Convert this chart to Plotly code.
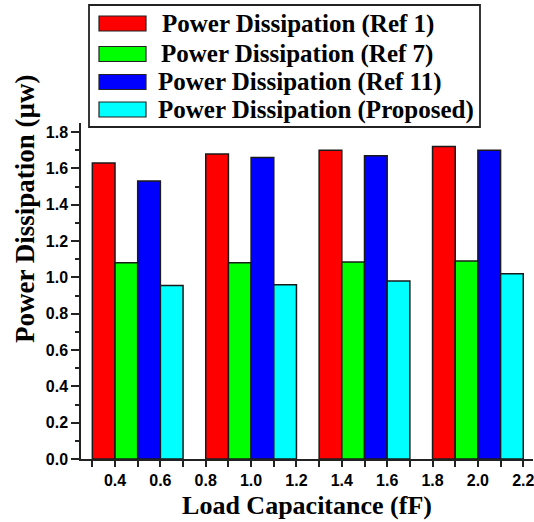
import plotly.graph_objects as go

# Load capacitance (fF) at which each group of bars is plotted
load_cap = [0.5, 1.0, 1.5, 2.0]

# Power dissipation (uW) for each design
ref1 = [1.63, 1.68, 1.70, 1.72]
ref7 = [1.08, 1.08, 1.085, 1.09]
ref11 = [1.53, 1.66, 1.67, 1.70]
proposed = [0.955, 0.96, 0.98, 1.02]

series_names = [
    "Power Dissipation (Ref 1)",
    "Power Dissipation (Ref 7)",
    "Power Dissipation (Ref 11)",
    "Power Dissipation (Proposed)",
]
series_values = [ref1, ref7, ref11, proposed]
colors = ["#FF0000", "#00FF00", "#0000FF", "#00FFFF"]

W, H = 534, 522
ML, MR, MT, MB = 81, 1, 123, 63
PW, PH = W - ML - MR, H - MT - MB


def px(x):
    return (x - ML) / PW


def py(y):
    return (H - MB - y) / PH


serif = "Liberation Serif"
sans = "Liberation Sans"

fig = go.Figure()
for name, vals, col in zip(series_names, series_values, colors):
    fig.add_trace(go.Bar(
        x=load_cap, y=vals, name=name,
        marker=dict(color=col, line=dict(color="#1a1a1a", width=1.5)),
        showlegend=False,
    ))

axis_common = dict(
    showline=True, linecolor="#222", linewidth=1.5,
    ticks="outside", tickcolor="#222", tickwidth=1.5,
    showgrid=False, zeroline=False, mirror=False,
    tickfont=dict(family=sans, size=16, color="black", weight="bold"),
    tickformat=".1f", ticklabeloverflow="allow",
)

fig.update_layout(
    width=W, height=H,
    margin=dict(l=ML, r=MR, t=MT, b=MB, pad=0),
    paper_bgcolor="white", plot_bgcolor="white",
    barmode="group", bargap=0.2, bargroupgap=0,
    xaxis=dict(
        range=[0.25, 0.25 + PW / 226.8],
        tick0=0.2, dtick=0.2, ticklen=6,
        minor=dict(dtick=0.1, tick0=0.2, ticks="outside", ticklen=6,
                   tickwidth=1.5, tickcolor="#222", showgrid=False),
        title=dict(text="Load Capacitance (fF)", standoff=8,
                   font=dict(family=serif, size=26, color="black", weight="bold")),
        **axis_common,
    ),
    yaxis=dict(
        range=[0, 1.85],
        tick0=0, dtick=0.2, ticklen=8,
        minor=dict(dtick=0.1, ticks="outside", ticklen=4,
                   tickwidth=1.5, tickcolor="#222", showgrid=False),
        **axis_common,
    ),
)

# Y axis title
fig.add_annotation(
    text="Power Dissipation (µw)", textangle=-90,
    x=px(25), y=py(209), xref="paper", yref="paper",
    xanchor="center", yanchor="middle", showarrow=False,
    font=dict(family=serif, size=27, color="black", weight="bold"),
)

# Legend box with swatches
fig.add_shape(type="rect", xref="paper", yref="paper",
              x0=px(89), x1=px(480), y0=py(5), y1=py(127),
              line=dict(color="#222", width=1.8), fillcolor="white", layer="above")
row_y = [23.5, 54, 82, 109.5]
text_x = [160, 159, 156, 156]
for name, col, ry, tx in zip(series_names, colors, row_y, text_x):
    fig.add_shape(type="rect", xref="paper", yref="paper",
                  x0=px(99), x1=px(146), y0=py(ry - 7.5), y1=py(ry + 7.5),
                  line=dict(color="#222", width=1.2), fillcolor=col, layer="above")
    fig.add_annotation(
        text=name, x=px(tx), y=py(ry), xref="paper", yref="paper",
        xanchor="left", yanchor="middle", showarrow=False,
        font=dict(family=serif, size=25, color="black", weight="bold"),
    )

fig.write_html("out.html")
